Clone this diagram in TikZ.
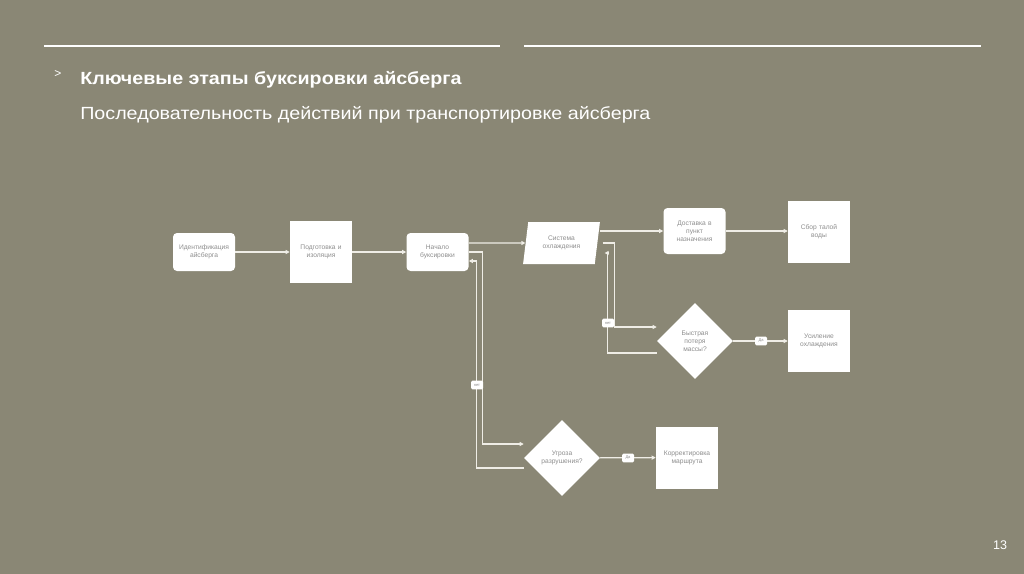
\documentclass[tikz,border=0pt]{standalone}
\usepackage{fontspec}
\setmainfont{Liberation Sans}
\newfontfamily\headfont[FakeStretch=1.12]{Liberation Sans}
\usetikzlibrary{arrows.meta, positioning, calc, shapes.geometric}
\definecolor{SlideBg}{HTML}{8A8775}
\definecolor{FlowLine}{HTML}{EFEDE6}
\definecolor{BoxText}{HTML}{8E8E8E}

\tikzset{
  box/.style={fill=white, minimum width=46.5pt, minimum height=46.5pt,
    inner sep=1pt, text width=42pt, align=center,
    font=\fontsize{5}{6}\selectfont, text=BoxText},
  roundbox/.style={box, rounded corners=3pt, minimum height=28.5pt},
  slantbox/.style={box, trapezium, trapezium left angle=76,
    trapezium right angle=104, trapezium stretches=true,
    minimum width=57.75pt, minimum height=31.5pt, text width=38pt},
  decision/.style={box, diamond, minimum width=57pt, minimum height=57pt,
    inner sep=0pt, text width=34pt},
  tag/.style={fill=white, rounded corners=1pt, minimum width=9pt,
    minimum height=6.5pt, inner sep=0pt,
    font=\fontsize{3}{3.5}\selectfont, text=BoxText},
  flow/.style={draw=FlowLine, line width=0.9pt},
  rule/.style={draw=white, line width=1.8pt},
  heading/.style={text=white, inner sep=0pt, anchor=base west},
}

\begin{document}
\begin{tikzpicture}[x=0.75pt, y=-0.75pt, >={Triangle[length=3pt,width=3pt]}]
  \fill[SlideBg] (0,0) rectangle (1024,574);
  \useasboundingbox (0,0) rectangle (1024,574);

  % header
  \draw[rule] (44,46) -- (500,46);
  \draw[rule] (524,46) -- (981,46);
  \node[text=white, font=\fontsize{9}{10}\selectfont, inner sep=0pt] (bullet) at (58,74) {>};
  \node[heading, font=\headfont\fontsize{13.2}{16}\selectfont\bfseries]
    (title) at (80,85) {Ключевые этапы буксировки айсберга};
  \node[heading, font=\headfont\fontsize{13.2}{16}\selectfont]
    (subtitle) at (80,120) {Последовательность действий при транспортировке айсберга};

  % flowchart
  \node[roundbox] (ident) at (204,252) {Идентификация\\айсберга};
  \node[box] (prep) at (321,252) {Подготовка и\\изоляция};
  \node[roundbox] (start) at (437.5,252) {Начало\\буксировки};
  \node[slantbox] (cool) at (561.5,243) {Система\\охлаждения};
  \node[roundbox, minimum height=34.5pt] (deliver) at (694.5,231) {Доставка в\\пункт\\назначения};
  \node[box] (collect) at (819,232) {Сбор талой\\воды};
  \node[decision] (mass) at (695,341) {Быстрая\\потеря\\массы?};
  \node[box] (boost) at (819,341) {Усиление\\охлаждения};
  \node[decision] (threat) at (562,458) {Угроза\\разрушения?};
  \node[box] (route) at (687,457.5) {Корректировка\\маршрута};

  \draw[flow,->] (ident) -- (prep);
  \draw[flow,->] (prep) -- (start);
  \draw[flow,->] ($(start.east)+(0,-9)$) -- (cool.west);
  \draw[flow,->] (start.east) -- ++(14,0) |- ($(threat.west)+(0,-14)$);
  \draw[flow,->] ($(threat.west)+(0,10)$) -- ++(-47,0) |- ($(start.east)+(0,9)$);
  \draw[flow,->] (cool.top right corner |- deliver.west) -- (deliver.west);
  \draw[flow,->] ($(cool.east)+(5,0)$) -- ++(12,0) |- ($(mass.west)+(0,-14)$);
  \draw[flow,->] ($(mass.west)+(0,12)$) -- ++(-49,0) |- ($(cool.east)+(7,10)$);
  \draw[flow,->] (deliver.east) -- (deliver.east -| collect.west);
  \draw[flow,->] (mass) -- (boost);
  \draw[flow,->] (threat) -- (route);

  \node[tag] (noMass) at (608,323) {нет};
  \node[tag] (yesMass) at (761,341) {Да};
  \node[tag] (noThreat) at (477,385) {нет};
  \node[tag] (yesThreat) at (628,458) {Да};

  \node[text=white, font=\fontsize{9.4}{10}\selectfont, inner sep=0pt] (page) at (1000,545) {13};
\end{tikzpicture}
\end{document}
